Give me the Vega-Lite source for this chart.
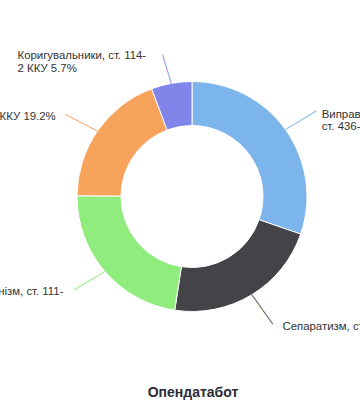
{
  "$schema": "https://vega.github.io/schema/vega-lite/v6.json",
  "width": 384,
  "height": 393,
  "autosize": {"type": "none"},
  "padding": {"left": 0, "top": 0, "right": 0, "bottom": 7},
  "background": "white",
  "view": {"stroke": null},
  "title": {"text": "Опендатабот", "orient": "bottom", "anchor": "middle", "baseline": "middle", "offset": 0, "dx": 1, "fontSize": 14, "fontWeight": "bold", "font": "Liberation Sans", "color": "#2b2b33"},
  "data": {"values": [
    {"n": 1, "cat": "Виправдовування", "v": 30.3, "label": "Виправдовування збройної агресії,\nст. 436-2 ККУ 30.3%"},
    {"n": 2, "cat": "Сепаратизм", "v": 22.1, "label": "Сепаратизм, ст. 110 ККУ 22.1%"},
    {"n": 3, "cat": "Колабораціонізм", "v": 22.7, "label": "Колабораціонізм, ст. 111-\n1 ККУ 22.7%"},
    {"n": 4, "cat": "Державна зрада", "v": 19.2, "label": "Державна зрада, ст. 111 ККУ 19.2%"},
    {"n": 5, "cat": "Коригувальники", "v": 5.7, "label": "Коригувальники, ст. 114-\n2 ККУ 5.7%"}
  ]},
  "encoding": {
    "theta": {"field": "v", "type": "quantitative", "stack": true},
    "order": {"field": "n", "type": "quantitative"}
  },
  "layer": [
    {
      "mark": {"type": "arc", "radius": 115, "innerRadius": 71, "stroke": "white", "strokeWidth": 1},
      "encoding": {
        "color": {"field": "cat", "type": "nominal", "legend": null,
          "scale": {"domain": ["Виправдовування", "Сепаратизм", "Колабораціонізм", "Державна зрада", "Коригувальники"],
                    "range": ["#7cb5ec", "#434348", "#90ed7d", "#f7a35c", "#8085e9"]}}
      }
    },
    {
      "mark": {"type": "text", "radius": 115, "align": "left", "baseline": "middle", "angle": 329, "font": "DejaVu Sans Mono", "fontSize": 10, "color": "#7cb5ec"},
      "encoding": {"detail": {"field": "cat"}, "text": {"condition": {"test": "datum.n == 1", "value": "──────"}, "value": ""}}
    },
    {
      "mark": {"type": "text", "radius": 115, "align": "left", "baseline": "middle", "angle": 54.5, "font": "DejaVu Sans Mono", "fontSize": 10, "color": "#434348"},
      "encoding": {"detail": {"field": "cat"}, "text": {"condition": {"test": "datum.n == 2", "value": "──────"}, "value": ""}}
    },
    {
      "mark": {"type": "text", "radius": 115, "align": "left", "baseline": "middle", "angle": 149.3, "font": "DejaVu Sans Mono", "fontSize": 10, "color": "#90ed7d"},
      "encoding": {"detail": {"field": "cat"}, "text": {"condition": {"test": "datum.n == 3", "value": "──────"}, "value": ""}}
    },
    {
      "mark": {"type": "text", "radius": 115, "align": "left", "baseline": "middle", "angle": 207.3, "font": "DejaVu Sans Mono", "fontSize": 10, "color": "#f7a35c"},
      "encoding": {"detail": {"field": "cat"}, "text": {"condition": {"test": "datum.n == 4", "value": "──────"}, "value": ""}}
    },
    {
      "mark": {"type": "text", "radius": 115, "align": "left", "baseline": "middle", "angle": 253.3, "font": "DejaVu Sans Mono", "fontSize": 10, "color": "#8085e9"},
      "encoding": {"detail": {"field": "cat"}, "text": {"condition": {"test": "datum.n == 5", "value": "─────"}, "value": ""}}
    },
    {
      "mark": {"type": "text", "radius": 115, "align": "left", "baseline": "top", "dx": 36, "dy": -21, "font": "Liberation Sans", "fontSize": 11.4, "color": "#333333", "lineBreak": "\n", "lineHeight": 12},
      "encoding": {"detail": {"field": "cat"}, "text": {"condition": {"test": "datum.n == 1", "field": "label"}, "value": ""}}
    },
    {
      "mark": {"type": "text", "radius": 115, "align": "left", "baseline": "top", "dx": 31, "dy": 26, "font": "Liberation Sans", "fontSize": 11.4, "color": "#333333", "lineBreak": "\n", "lineHeight": 12},
      "encoding": {"detail": {"field": "cat"}, "text": {"condition": {"test": "datum.n == 2", "field": "label"}, "value": ""}}
    },
    {
      "mark": {"type": "text", "radius": 115, "align": "left", "baseline": "top", "dx": -173, "dy": 15, "font": "Liberation Sans", "fontSize": 11.4, "color": "#333333", "lineBreak": "\n", "lineHeight": 12},
      "encoding": {"detail": {"field": "cat"}, "text": {"condition": {"test": "datum.n == 3", "field": "label"}, "value": ""}}
    },
    {
      "mark": {"type": "text", "radius": 115, "align": "right", "baseline": "top", "dx": -42, "dy": -20, "font": "Liberation Sans", "fontSize": 11.4, "color": "#333333", "lineBreak": "\n", "lineHeight": 12},
      "encoding": {"detail": {"field": "cat"}, "text": {"condition": {"test": "datum.n == 4", "field": "label"}, "value": ""}}
    },
    {
      "mark": {"type": "text", "radius": 115, "align": "left", "baseline": "top", "dx": -154, "dy": -33, "font": "Liberation Sans", "fontSize": 11.4, "color": "#333333", "lineBreak": "\n", "lineHeight": 13},
      "encoding": {"detail": {"field": "cat"}, "text": {"condition": {"test": "datum.n == 5", "field": "label"}, "value": ""}}
    }
  ]
}
